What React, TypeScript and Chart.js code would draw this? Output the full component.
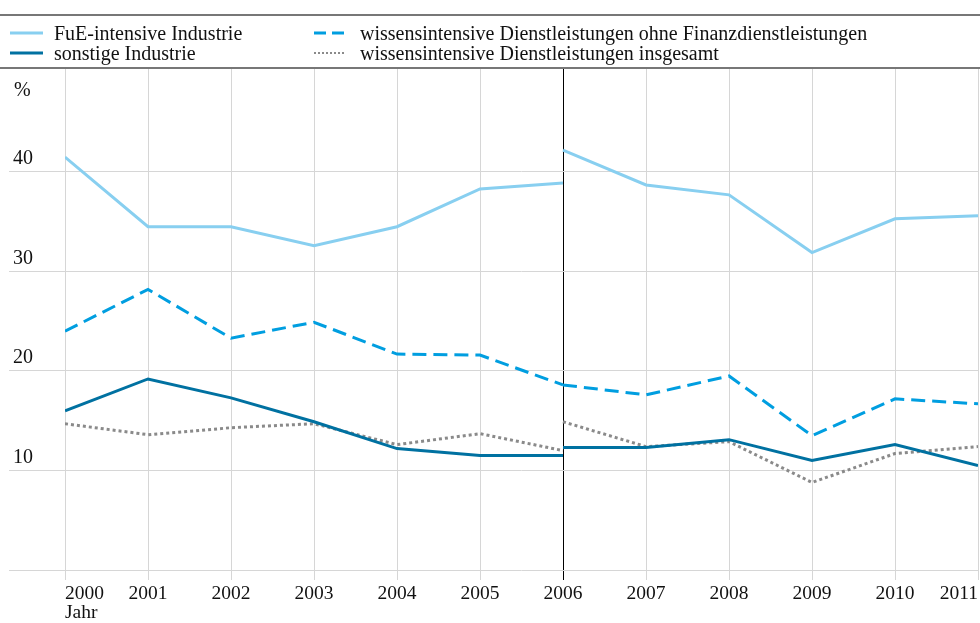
import React, { useEffect, useRef } from "react";
import { Chart, registerables } from "chart.js";

Chart.register(...registerables);

// ---- data ----
const yearsBefore = [2000, 2001, 2002, 2003, 2004, 2005, 2006];
const yearsAfter = [2006, 2007, 2008, 2009, 2010, 2011];
const tickYears = [2000, 2001, 2002, 2003, 2004, 2005, 2006, 2007, 2008, 2009, 2010, 2011];
const yTickValues = [0, 10, 20, 30, 40];
const breakYear = 2006;

const seriesNames = [
  "FuE-intensive Industrie",
  "sonstige Industrie",
  "wissensintensive Dienstleistungen ohne Finanzdienstleistungen",
  "wissensintensive Dienstleistungen insgesamt",
];

const fueBefore = [41.5, 34.5, 34.5, 32.6, 34.5, 38.3, 38.9];
const fueAfter = [42.2, 38.7, 37.7, 31.9, 35.3, 35.6];
const sonstigeBefore = [16.0, 19.2, 17.3, 14.9, 12.2, 11.5, 11.5];
const sonstigeAfter = [12.3, 12.3, 13.1, 11.0, 12.6, 10.5];
const ohneFinBefore = [24.0, 28.2, 23.3, 24.9, 21.7, 21.6, 18.6];
const ohneFinAfter = [18.6, 17.6, 19.5, 13.5, 17.2, 16.7];
const insgesamtBefore = [14.7, 13.6, 14.3, 14.7, 12.6, 13.7, 12.0];
const insgesamtAfter = [14.9, 12.4, 12.9, 8.8, 11.7, 12.4];

// ---- styles ----
const seriesColors = ["#88cff0", "#0071a1", "#009ee0", "#8a8a8a"];
const seriesDashes: number[][] = [[], [], [14, 7], [3, 3]];
const legendDashes = ["", "", "12 6", "2 2"];
const legendWidths = [3, 3, 3, 2];
const FONT = "'Liberation Serif', 'Times New Roman', Times, serif";
const GRID = "#d6d6d6";

function joinSeries(before: number[], after: number[]) {
  const pts: { x: number; y: number | null }[] = [];
  yearsBefore.forEach((yr, i) => pts.push({ x: yr, y: before[i] }));
  pts.push({ x: breakYear, y: null });
  yearsAfter.forEach((yr, i) => pts.push({ x: yr, y: after[i] }));
  return pts;
}

const seriesData = [
  joinSeries(fueBefore, fueAfter),
  joinSeries(sonstigeBefore, sonstigeAfter),
  joinSeries(ohneFinBefore, ohneFinAfter),
  joinSeries(insgesamtBefore, insgesamtAfter),
];

// legend slots: [column, row] for each series
const legendSlots = [
  [0, 0],
  [0, 1],
  [1, 0],
  [1, 1],
];
const legendColMarkerX = [10, 314];
const legendColMarkerW = [33, 31];
const legendColTextX = [54, 360];

export default function App() {
  const canvasRef = useRef<HTMLCanvasElement | null>(null);

  useEffect(() => {
    if (!canvasRef.current) return;
    const chart = new Chart(canvasRef.current, {
      type: "line",
      data: {
        datasets: seriesNames.map((name, i) => ({
          label: name,
          data: seriesData[i],
          borderColor: seriesColors[i],
          backgroundColor: seriesColors[i],
          borderWidth: 3,
          borderDash: seriesDashes[i],
          borderCapStyle: "butt",
          borderJoinStyle: "miter",
          pointRadius: 0,
          tension: 0,
          spanGaps: false,
          fill: false,
        })),
      },
      options: {
        animation: false,
        responsive: false,
        maintainAspectRatio: false,
        layout: { padding: { top: 69, left: 13, right: 0, bottom: 0 } },
        plugins: {
          legend: { display: false },
          tooltip: { enabled: false },
        },
        scales: {
          x: {
            type: "linear",
            min: 2000,
            max: 2011,
            afterBuildTicks: (s: any) => {
              s.ticks = tickYears.map((v) => ({ value: v }));
            },
            afterFit: (s: any) => {
              s.height = 53;
            },
            grid: {
              color: (ctx: any) =>
                ctx.tick && ctx.tick.value === breakYear ? "#000000" : GRID,
              lineWidth: 1,
              tickLength: 10,
              drawTicks: true,
            },
            border: { display: false },
            ticks: {
              align: "inner",
              padding: 2,
              autoSkip: false,
              maxRotation: 0,
              color: "#111",
              font: { family: FONT, size: 19.5 },
              callback: (v: any) => String(v),
            },
            title: {
              display: true,
              text: "Jahr",
              align: "start",
              padding: 0,
              color: "#111",
              font: { family: FONT, size: 19.5, lineHeight: 1 },
            },
          },
          y: {
            min: 0,
            max: 50.35,
            afterBuildTicks: (s: any) => {
              s.ticks = yTickValues.map((v) => ({ value: v }));
            },
            afterFit: (s: any) => {
              s.width = 52;
            },
            grid: { color: GRID, lineWidth: 1, tickLength: 56, drawTicks: true },
            border: { display: false },
            ticks: {
              crossAlign: "far",
              labelOffset: -13,
              padding: 0,
              color: "#111",
              font: { family: FONT, size: 20 },
              callback: (v: any) => (v === 0 ? "" : String(v)),
            },
          },
        },
      } as any,
    });
    return () => chart.destroy();
  }, []);

  return (
    <div
      style={{
        position: "absolute",
        left: 0,
        top: 0,
        width: 980,
        height: 623,
        background: "#fff",
        overflow: "hidden",
        fontFamily: FONT,
        color: "#111",
      }}
    >
      <canvas
        ref={canvasRef}
        width={980}
        height={623}
        style={{ position: "absolute", left: 0, top: 0, width: 980, height: 623 }}
      />
      <div style={{ position: "absolute", left: 0, top: 14, width: 980, height: 2, background: "#777" }} />
      <div style={{ position: "absolute", left: 0, top: 67, width: 980, height: 2, background: "#777" }} />
      {seriesNames.map((name, i) => {
        const [col, row] = legendSlots[i];
        const cy = 33 + row * 20;
        const w = legendColMarkerW[col];
        return (
          <React.Fragment key={name}>
            <svg
              width={w}
              height={6}
              style={{ position: "absolute", left: legendColMarkerX[col], top: cy - 3 }}
            >
              <line
                x1={0}
                y1={3}
                x2={w}
                y2={3}
                stroke={seriesColors[i]}
                strokeWidth={legendWidths[i]}
                strokeDasharray={legendDashes[i] || undefined}
              />
            </svg>
            <div
              style={{
                position: "absolute",
                left: legendColTextX[col],
                top: cy - 10,
                height: 20,
                lineHeight: "20px",
                fontSize: 20,
                whiteSpace: "nowrap",
              }}
            >
              {name}
            </div>
          </React.Fragment>
        );
      })}
      <div
        style={{
          position: "absolute",
          left: 14,
          top: 79,
          height: 20,
          lineHeight: "20px",
          fontSize: 20,
        }}
      >
        %
      </div>
    </div>
  );
}
